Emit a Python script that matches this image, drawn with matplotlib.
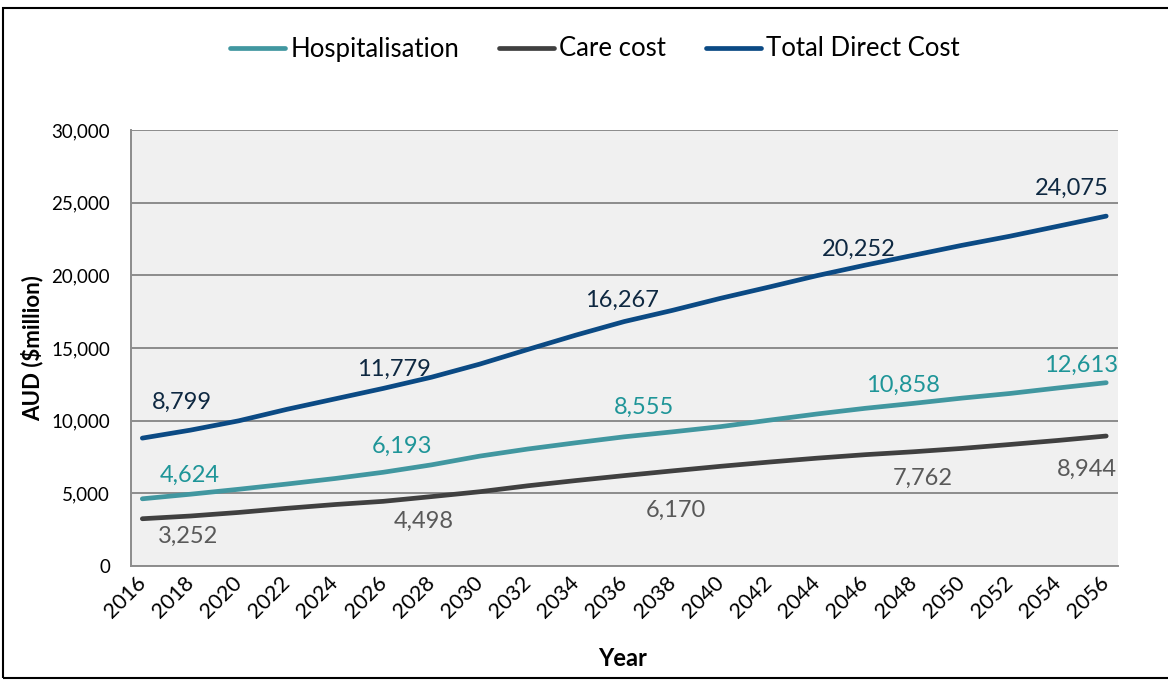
import matplotlib
matplotlib.use("Agg")
import matplotlib.pyplot as plt
from matplotlib.patches import Rectangle

# ---- data ----
years = [2016, 2018, 2020, 2022, 2024, 2026, 2028, 2030, 2032, 2034, 2036,
         2038, 2040, 2042, 2044, 2046, 2048, 2050, 2052, 2054, 2056]
hospitalisation = [4624, 4940, 5280, 5640, 6020, 6450, 6960, 7560, 8050, 8480, 8890,
                   9230, 9590, 10030, 10460, 10850, 11190, 11550, 11870, 12250, 12613]
care_cost = [3252, 3440, 3685, 3970, 4230, 4450, 4775, 5110, 5520, 5880, 6220,
             6545, 6860, 7150, 7420, 7660, 7860, 8090, 8360, 8640, 8944]
total_direct = [8799, 9350, 9990, 10780, 11500, 12220, 12990, 13890, 14900, 15890, 16820,
                17590, 18420, 19190, 19980, 20700, 21380, 22060, 22690, 23380, 24075]

label_years = [2016, 2026, 2036, 2046, 2056]
hosp_labels = [4624, 6193, 8555, 10858, 12613]
care_labels = [3252, 4498, 6170, 7762, 8944]
total_labels = [8799, 11779, 16267, 20252, 24075]

series_names = ["Hospitalisation", "Care cost", "Total Direct Cost"]
tick_years = list(range(2016, 2057, 2))
y_ticks = [0, 5000, 10000, 15000, 20000, 25000, 30000]

# ---- style ----
FONT = "Lato"
plt.rcParams["font.family"] = [FONT, "DejaVu Sans"]
c_hosp_line, c_hosp_text = "#4197A0", "#1E9598"
c_care_line, c_care_text = "#404040", "#595959"
c_tot_line, c_tot_text = "#0B4A84", "#0E2841"

W, H = 1168, 680
fig = plt.figure(figsize=(W / 100, H / 100), dpi=100)
ax = fig.add_axes([131 / W, 1 - 566 / H, (1118 - 131) / W, (566 - 130) / H])
ax.set_facecolor("#F0F0F0")

lw = 3.4
l1, = ax.plot(years, hospitalisation, color=c_hosp_line, lw=lw, solid_capstyle="round", solid_joinstyle="round")
l2, = ax.plot(years, care_cost, color=c_care_line, lw=lw, solid_capstyle="round", solid_joinstyle="round")
l3, = ax.plot(years, total_direct, color=c_tot_line, lw=lw, solid_capstyle="round", solid_joinstyle="round")

ax.set_xlim(2015.53, 2056.49)
ax.set_ylim(0, 30000)
ax.set_yticks(y_ticks)
ax.set_yticklabels([f"{v:,}" for v in y_ticks])
ax.set_xticks(tick_years)
ax.set_xticklabels([str(y) for y in tick_years], rotation=45, ha="right",
                   va="center", rotation_mode="anchor")
ax.tick_params(axis="y", length=0, pad=15, labelsize=13.5, colors="black")
ax.tick_params(axis="x", length=0, pad=10, labelsize=15.5, colors="black")
ax.grid(axis="y", color="#8C8C8C", lw=1.4)
ax.set_axisbelow(True)
for s in ["top", "right"]:
    ax.spines[s].set_visible(False)
for s in ["left", "bottom"]:
    ax.spines[s].set_color("#8C8C8C")
    ax.spines[s].set_linewidth(1.4)

# data labels (offsets in pixels, relative to the point at that year)
def value_at(series, yr):
    return series[years.index(yr)]

offs_total = [(40, 36), (11, 19), (-2, 21), (-6, 16), (-34, 28)]
offs_hosp = [(47, 23), (19, 26), (20, 29), (38, 23), (-25, 17)]
offs_care = [(46, -18), (40, -20), (52, -35), (58, -24), (-19, -33)]
for series, labels, offs, col in [(total_direct, total_labels, offs_total, c_tot_text),
                                  (hospitalisation, hosp_labels, offs_hosp, c_hosp_text),
                                  (care_cost, care_labels, offs_care, c_care_text)]:
    for yr, lab, off in zip(label_years, labels, offs):
        ax.annotate(f"{lab:,}", xy=(yr, value_at(series, yr)), xytext=off,
                    textcoords="offset pixels", ha="center", va="center",
                    fontsize=17, color=col)

fig.text(32 / W, 1 - 348 / H, "AUD ($million)", rotation=90, ha="center", va="center",
         fontsize=16, fontweight="bold")
fig.text(623 / W, 1 - 659 / H, "Year", ha="center", va="center",
         fontsize=17, fontweight="bold")

fig.legend([l1, l2, l3], series_names, loc="center", bbox_to_anchor=(595 / W, 1 - 49 / H),
           ncol=3, frameon=False, fontsize=18.5, handlelength=2.15, handletextpad=0.2,
           columnspacing=1.55)

fig.patches.append(Rectangle((3 / W, 1 - 678 / H), (1175 - 3) / W, (678 - 8) / H,
                             transform=fig.transFigure, fill=False, edgecolor="black", lw=1.5))

fig.savefig("out.png", dpi=100)
